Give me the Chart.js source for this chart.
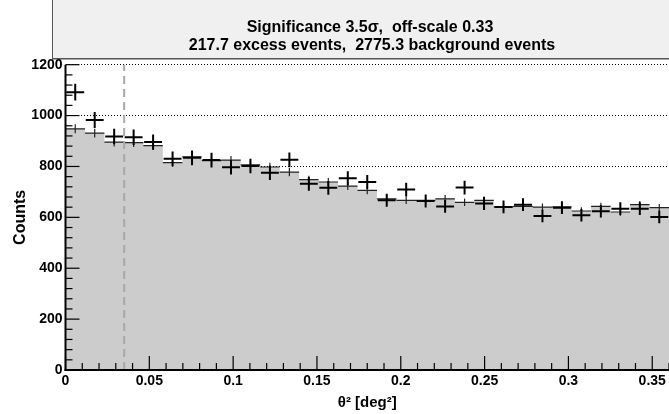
<!DOCTYPE html>
<html><head><meta charset="utf-8">
<script src="https://cdn.jsdelivr.net/npm/chart.js@4.4.1/dist/chart.umd.min.js"></script>
<style>html,body{margin:0;padding:0;background:#fff;overflow:hidden}canvas{display:block}</style>
</head><body>
<canvas id="c" width="669" height="414"></canvas>
<script>
// ---- data ----
const THETA2_MAX = 0.36;      // x-axis range [deg^2]
const N_BINS = 31;
const OFF_SCALE = 0.33;
const CUT = 0.035;            // theta^2 cut (dashed line)
const onCounts  = [1092, 983, 918, 915, 896, 830, 834, 825, 797, 802, 775, 826, 732, 716, 754, 739,
                   667, 709, 664, 643, 717, 654, 641, 650, 605, 638, 608, 624, 634, 634, 601];
const offCounts = [948, 931, 896, 894, 882, 815, 838, 823, 825, 806, 798, 778, 748, 739, 723, 706,
                   673, 667, 667, 673, 659, 667, 641, 643, 640, 641, 625, 643, 621, 650, 638];
const xTicks = [0, 0.05, 0.1, 0.15, 0.2, 0.25, 0.3, 0.35];
const xTickLabels = ['0', '0.05', '0.1', '0.15', '0.2', '0.25', '0.3', '0.35'];
const yTicks = [0, 200, 400, 600, 800, 1000, 1200];
const yTickLabels = ['0', '200', '400', '600', '800', '1000', '1200'];
const titleLines = ['Significance 3.5\u03c3,  off-scale 0.33', '217.7 excess events,  2775.3 background events'];

// ---- derived series ----
const binW = THETA2_MAX / N_BINS;
const edges = [];
for (let i = 0; i <= N_BINS; i++) edges.push(i * binW);
const fillData = offCounts.map((v, i) => ({x: edges[i], y: v}));
fillData.push({x: edges[N_BINS], y: offCounts[N_BINS - 1]});
const offLines = [];
offCounts.forEach((v, i) => {
  const e = Math.sqrt(v * OFF_SCALE), c = (edges[i] + edges[i + 1]) / 2;
  offLines.push({x: edges[i], y: v}, {x: edges[i + 1], y: v}, {x: edges[i + 1], y: null},
                {x: c, y: v - e}, {x: c, y: v + e}, {x: c, y: null});
});
const onCross = [];
onCounts.forEach((v, i) => {
  const e = Math.sqrt(v), c = (edges[i] + edges[i + 1]) / 2;
  onCross.push({x: edges[i] + binW * 0.04, y: v}, {x: edges[i + 1] - binW * 0.04, y: v}, {x: edges[i + 1], y: null},
               {x: c, y: v - e}, {x: c, y: v + e}, {x: c, y: null});
});
const cutLine = [{x: CUT, y: 0}, {x: CUT, y: 1200}];

const FONT = 'Liberation Sans, Arial, Helvetica, sans-serif';

const boxPlugin = {
  id: 'titleBox',
  beforeDraw(chart) {
    const ctx = chart.ctx;
    ctx.save();
    ctx.fillStyle = '#f0f0f0';
    ctx.fillRect(52, -2, 700, 61);
    ctx.strokeStyle = '#555';
    ctx.lineWidth = 1;
    ctx.beginPath(); ctx.moveTo(52.5, -2); ctx.lineTo(52.5, 59); ctx.stroke();
    ctx.lineWidth = 1.5;
    ctx.beginPath(); ctx.moveTo(52, 58.8); ctx.lineTo(700, 58.8); ctx.stroke();
    ctx.fillStyle = '#000';
    ctx.font = 'bold 16px ' + FONT;
    ctx.textAlign = 'center';
    ctx.textBaseline = 'middle';
    ctx.fillText(titleLines[0], 370, 28);
    ctx.fillText(titleLines[1], 372, 46);
    ctx.restore();
  }
};

const framePlugin = {
  id: 'frame',
  afterDatasetsDraw(chart) {
    const {ctx, chartArea: a, scales: {x, y}} = chart;
    ctx.save();
    ctx.strokeStyle = '#000';
    ctx.lineWidth = 1.2;
    const line = (x1, y1, x2, y2) => { ctx.beginPath(); ctx.moveTo(x1, y1); ctx.lineTo(x2, y2); ctx.stroke(); };
    for (let k = 0; k <= 30; k++) {
      const py = y.getPixelForValue(k * 40);
      line(a.left, py, a.left + (k % 5 === 0 ? 14 : 7), py);
    }
    for (let k = 0; k <= 36; k++) {
      const px = x.getPixelForValue(k * 0.01);
      line(px, a.bottom, px, a.bottom - (k % 5 === 0 ? 14 : 7));
    }
    ctx.lineWidth = 2;
    line(a.left, a.top, a.left, a.bottom + 1);
    line(a.left - 1, a.bottom, a.right + 2, a.bottom);
    ctx.restore();
  }
};

new Chart(document.getElementById('c'), {
  type: 'line',
  data: {
    datasets: [
      {data: onCross, borderColor: '#000', borderWidth: 2, pointRadius: 0, spanGaps: false, order: 1, borderCapStyle: 'butt'},
      {data: cutLine, borderColor: '#a8a8a8', borderWidth: 2, borderDash: [8, 5], pointRadius: 0, order: 2},
      {data: offLines, borderColor: '#222', borderWidth: 1.2, pointRadius: 0, spanGaps: false, order: 3},
      {data: fillData, stepped: 'before', fill: 'origin', backgroundColor: '#cccccc', borderWidth: 0, borderColor: 'rgba(0,0,0,0)', pointRadius: 0, order: 4}
    ]
  },
  options: {
    responsive: false, animation: false, devicePixelRatio: 1,
    layout: {padding: {top: 64.7, left: 0, right: 0, bottom: 0}},
    plugins: {legend: {display: false}, tooltip: {enabled: false}, title: {display: false}},
    elements: {line: {tension: 0}},
    scales: {
      x: {
        type: 'linear', min: 0, max: THETA2_MAX,
        afterFit(s) { s.height = 44; },
        afterBuildTicks(s) { s.ticks = xTicks.map(v => ({value: v})); },
        grid: {display: false, drawTicks: false},
        border: {display: false},
        ticks: {color: '#000', padding: 3, maxRotation: 0, autoSkip: false,
                font: {family: FONT, weight: 'bold', size: 14},
                callback: (v, i) => xTickLabels[i]},
        title: {display: true, text: '\u03b8\u00b2 [deg\u00b2]', color: '#000',
                font: {family: FONT, weight: 'bold', size: 15}, padding: {bottom: 2, top: 0}}
      },
      y: {
        type: 'linear', min: 0, max: 1200,
        afterFit(s) { s.width = 65.5; },
        afterBuildTicks(s) { s.ticks = yTicks.map(v => ({value: v})); },
        grid: {display: true, drawTicks: false, color: '#000', lineWidth: 1},
        border: {display: false, dash: [1, 2]},
        ticks: {color: '#000', padding: 3, autoSkip: false,
                font: {family: FONT, weight: 'bold', size: 14},
                callback: (v, i) => yTickLabels[i]},
        title: {display: true, text: 'Counts', color: '#000',
                font: {family: FONT, weight: 'bold', size: 16}, padding: {top: 11, bottom: 0}}
      }
    }
  },
  plugins: [boxPlugin, framePlugin]
});
</script>
</body></html>
